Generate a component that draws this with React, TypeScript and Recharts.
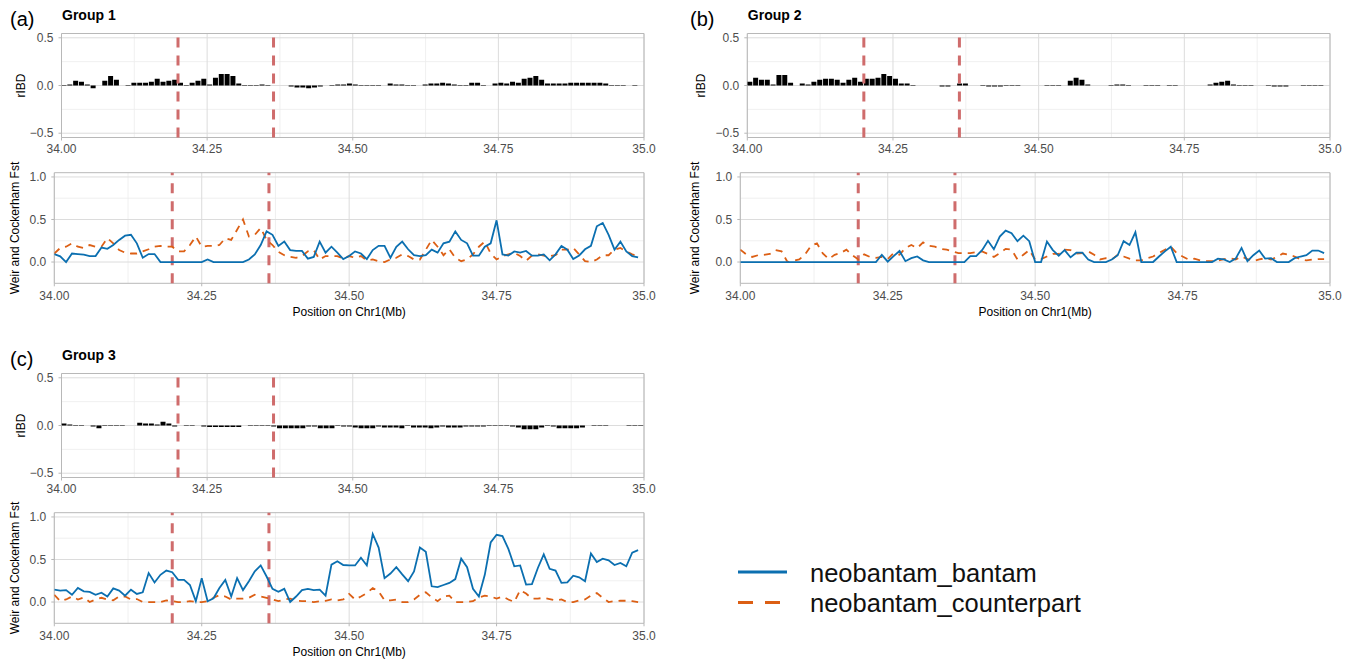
import React from 'react';
import {
  ComposedChart,
  Bar,
  Line,
  XAxis,
  YAxis,
  CartesianGrid,
  ReferenceLine,
  ReferenceArea,
} from 'recharts';

// ---------- axes / categories ----------
const X_TICKS = [34, 34.25, 34.5, 34.75, 35];
const X_TICK_LABELS = ['34.00', '34.25', '34.50', '34.75', '35.0'];
const X_MINOR = [34.125, 34.375, 34.625, 34.875];
const RIBD_DOMAIN = [-0.545, 0.545];
const RIBD_TICKS = [-0.5, 0, 0.5];
const RIBD_TICK_LABELS = ['\u22120.5', '0.0', '0.5'];
const RIBD_MINOR = [-0.25, 0.25];
const FST_DOMAIN = [-0.25, 1.05];
const FST_TICKS = [0, 0.5, 1];
const FST_TICK_LABELS = ['0.0', '0.5', '1.0'];
const FST_MINOR = [0.25, 0.75];
const CANDIDATE_REGION = [34.2, 34.364];
const SERIES_NAMES = ['neobantam_bantam', 'neobantam_counterpart'];

// rIBD bins (0.01 Mb windows, centred) and Fst windows (0.01 Mb steps)
const RIBD_BIN_POS = Array.from({ length: 100 }, (_, i) => Number((34.005 + i * 0.01).toFixed(3)));
const FST_POS = Array.from({ length: 100 }, (_, i) => Number((34 + i * 0.01).toFixed(2)));

// ---------- rIBD values ----------
const RIBD_G1 = [
  0.005, 0.01, 0.05, 0.04, 0.01, -0.03, 0, 0.05, 0.1, 0.06,
  0, 0.005, 0.03, 0.03, 0.03, 0.04, 0.07, 0.04, 0.05, 0.06,
  0.03, 0.005, 0.03, 0.05, 0.07, 0.01, 0.08, 0.12, 0.12, 0.1,
  0.02, 0.005, 0.005, 0.005, 0.01, 0.005, 0, 0, 0, -0.01,
  -0.02, -0.02, -0.03, -0.02, -0.01, 0, 0.005, 0.01, 0.01, 0.02,
  0.01, 0.005, 0.005, 0.005, 0.005, 0, 0.02, 0.01, 0.01, 0.005,
  0.005, 0, 0.01, 0.02, 0.02, 0.03, 0.02, 0.01, 0.005, 0.005,
  0.03, 0.03, 0.005, 0, 0.02, 0.03, 0.02, 0.04, 0.03, 0.07,
  0.08, 0.1, 0.06, 0.02, 0.02, 0.02, 0.02, 0.03, 0.03, 0.03,
  0.03, 0.03, 0.03, 0.02, 0.005, 0.005, 0.005, 0, -0.005, 0,
];
const RIBD_G2 = [
  0.04, 0.08, 0.06, 0.06, 0.01, 0.11, 0.11, 0.03, 0, 0.02,
  0.01, 0.04, 0.06, 0.07, 0.07, 0.06, 0.03, 0.06, 0.08, 0.04,
  0.07, 0.07, 0.08, 0.12, 0.1, 0.07, 0.02, 0.02, 0.005, 0,
  0, 0, 0, -0.01, -0.01, 0, 0.02, 0.02, 0, 0,
  -0.005, -0.01, -0.01, -0.01, -0.005, -0.005, -0.005, 0, 0, 0,
  0, 0.005, 0.005, 0.005, 0, 0.05, 0.08, 0.06, 0.01, 0,
  0, 0, 0.005, 0.01, 0.01, 0.005, 0, 0, 0.005, 0.005,
  0.005, 0, -0.005, -0.005, 0, 0, 0, 0, 0, 0.01,
  0.03, 0.04, 0.05, 0.01, 0.005, -0.005, -0.005, 0, 0, -0.005,
  -0.01, -0.01, -0.01, 0, 0, -0.005, -0.005, -0.005, -0.005, 0,
];
const RIBD_G3 = [
  0.02, 0.01, 0.005, 0.005, 0, -0.01, -0.03, 0.005, 0.005, 0.005,
  0.005, 0, 0, 0.03, 0.02, 0.02, 0.01, 0.04, 0.02, -0.01,
  0, 0.005, 0.005, 0, -0.01, -0.015, -0.015, -0.015, -0.015, -0.015,
  -0.015, 0, -0.005, -0.005, -0.005, -0.005, -0.01, -0.03, -0.03, -0.03,
  -0.03, -0.03, -0.01, -0.01, -0.03, -0.03, -0.03, -0.005, -0.01, -0.01,
  -0.02, -0.03, -0.03, -0.03, -0.01, -0.02, -0.02, -0.02, -0.03, -0.005,
  -0.02, -0.02, -0.02, -0.03, -0.02, -0.01, -0.02, -0.02, -0.02, -0.01,
  -0.01, -0.01, -0.01, -0.005, -0.005, -0.005, -0.005, -0.01, -0.02, -0.04,
  -0.04, -0.04, -0.02, -0.005, -0.01, -0.03, -0.03, -0.03, -0.03, -0.02,
  0, -0.005, -0.005, -0.005, 0, 0, 0, -0.005, -0.005, -0.005,
];

// ---------- Fst values ----------
const FST_G1_BANTAM = [
  0.094, 0.067, 0, 0.1, 0.094, 0.087, 0.07, 0.07, 0.17, 0.155,
  0.2, 0.26, 0.31, 0.32, 0.22, 0.05, 0.094, 0.094, 0, 0,
  0, 0, 0, 0, 0, 0, 0.03, 0, 0, 0,
  0, 0, 0, 0.03, 0.09, 0.2, 0.36, 0.32, 0.19, 0.24,
  0.14, 0.13, 0.13, 0.04, 0.06, 0.24, 0.11, 0.18, 0.11, 0.035,
  0.07, 0.125, 0.1, 0.035, 0.14, 0.19, 0.19, 0.05, 0.18, 0.24,
  0.15, 0.08, 0.07, 0.08, 0.145, 0.11, 0.22, 0.24, 0.36, 0.26,
  0.22, 0.075, 0.075, 0.18, 0.22, 0.49, 0.09, 0.075, 0.125, 0.11,
  0.13, 0.075, 0.075, 0.09, 0.02, 0.09, 0.19, 0.145, 0.035, 0.075,
  0.15, 0.19, 0.42, 0.46, 0.32, 0.145, 0.24, 0.125, 0.07, 0.055,
];
const FST_G1_COUNTERPART = [
  0.1, 0.165, 0.18, 0.22, 0.18, 0.165, 0.2, 0.18, 0.18, 0.28,
  0.22, 0.14, 0.11, 0.1, 0.1, 0.125, 0.15, 0.18, 0.19, 0.18,
  0.18, 0.125, 0.125, 0.2, 0.3, 0.18, 0.19, 0.19, 0.2, 0.28,
  0.26, 0.38, 0.5, 0.3, 0.32, 0.4, 0.26, 0.2, 0.12, 0.08,
  0.06, 0.05, 0.07, 0.125, 0.14, 0.03, 0.07, 0.07, 0.07, 0.04,
  0.07, 0.05, 0.07, 0.02, 0.03, 0.01, 0, 0.03, 0.05, 0.09,
  0.07, 0.03, 0.03, 0.145, 0.26, 0.18, 0.08, 0.15, 0.05, 0.01,
  0.03, 0.09, 0.18, 0.24, 0.1, 0.03, 0.07, 0.09, 0.11, 0.07,
  0.015, 0.075, 0.09, 0.075, 0.07, 0.08, 0.145, 0.145, 0.165, 0.09,
  0.01, 0, 0.03, 0.08, 0.08, 0.145, 0.165, 0.125, 0.09, 0.07,
];
const FST_G2_BANTAM = [
  0, 0, 0, 0, 0, 0, 0, 0, 0, 0,
  0, 0, 0, 0, 0, 0, 0, 0, 0, 0,
  0, 0, 0, 0, 0.085, 0.005, 0.07, 0.13, 0.01, 0.045,
  0.065, 0.02, 0, 0, 0, 0, 0, 0, 0, 0.07,
  0.07, 0.14, 0.25, 0.15, 0.3, 0.37, 0.34, 0.245, 0.31, 0.245,
  0, 0, 0.24, 0.14, 0.075, 0.14, 0.055, 0.11, 0.11, 0.03,
  0, 0, 0, 0.03, 0.08, 0.245, 0.2, 0.35, 0, 0,
  0, 0.065, 0.125, 0.18, 0, 0, 0, 0, 0, 0,
  0, 0.04, 0.03, 0, 0.04, 0.165, 0.01, 0.08, 0.135, 0.04,
  0.045, 0, 0, 0, 0.045, 0.065, 0.08, 0.135, 0.135, 0.105,
];
const FST_G2_COUNTERPART = [
  0.145, 0.09, 0.06, 0.08, 0.085, 0.095, 0.14, 0.125, 0, 0.015,
  0.03, 0.09, 0.19, 0.22, 0.1, 0.035, 0.085, 0.105, 0.145, 0.08,
  0.03, 0.09, 0.06, 0.05, 0.06, 0.035, 0.105, 0.085, 0.165, 0.2,
  0.165, 0.23, 0.19, 0.18, 0.155, 0.145, 0.125, 0.105, 0.105, 0.105,
  0.115, 0.125, 0.095, 0.06, 0.105, 0.155, 0.145, 0.03, 0.085, 0.14,
  0.03, 0.035, 0.065, 0.095, 0.095, 0.145, 0.14, 0.1, 0.105, 0.125,
  0.085, 0.03, 0.045, 0.03, 0.085, 0.065, 0.04, 0.02, 0.02, 0.045,
  0.065, 0.105, 0.145, 0.18, 0.105, 0.065, 0.03, 0.04, 0.02, 0.01,
  0.01, 0.015, 0.035, 0.045, 0.03, 0.065, 0.035, 0.01, 0.03, 0.045,
  0.03, 0.06, 0.1, 0.085, 0.065, 0.03, 0.02, 0.03, 0.035, 0.035,
];
const FST_G3_BANTAM = [
  0.145, 0.135, 0.14, 0.085, 0.165, 0.125, 0.12, 0.085, 0.11, 0.065,
  0.16, 0.135, 0.075, 0.145, 0.095, 0.115, 0.34, 0.23, 0.32, 0.37,
  0.35, 0.26, 0.26, 0.2, 0.01, 0.28, 0.01, 0.045, 0.165, 0.26,
  0.065, 0.28, 0.14, 0.245, 0.36, 0.43, 0.3, 0.155, 0.12, 0.155,
  0, 0.065, 0.14, 0.155, 0.14, 0.145, 0.075, 0.44, 0.48, 0.435,
  0.43, 0.43, 0.52, 0.43, 0.8, 0.64, 0.28, 0.335, 0.41, 0.325,
  0.245, 0.36, 0.64, 0.59, 0.185, 0.175, 0.2, 0.225, 0.27, 0.51,
  0.41, 0.155, 0.065, 0.32, 0.7, 0.79, 0.775, 0.625, 0.42, 0.43,
  0.205, 0.21, 0.4, 0.56, 0.39, 0.37, 0.225, 0.23, 0.31, 0.29,
  0.245, 0.57, 0.47, 0.51, 0.49, 0.435, 0.46, 0.42, 0.58, 0.61,
];
const FST_G3_COUNTERPART = [
  0.085, 0.01, 0.03, 0.065, 0.03, 0.055, 0, 0.03, 0.05, 0.03,
  0.02, 0.065, 0.065, 0.03, 0.035, 0, 0, 0, 0, 0.02,
  0.01, 0, 0, 0.01, 0, 0, 0.01, 0.05, 0.08, 0.065,
  0.03, 0.04, 0.04, 0.05, 0.085, 0.065, 0.05, 0.03, 0.01, 0.03,
  0.04, 0.015, 0.01, 0.01, 0, 0.01, 0.015, 0.03, 0.02, 0.03,
  0.095, 0.03, 0.065, 0.105, 0.165, 0.125, 0.02, 0.02, 0.03, 0,
  0, 0.03, 0.085, 0.115, 0.055, 0.01, 0.065, 0.075, 0, 0,
  0, 0.01, 0.055, 0.075, 0.065, 0.04, 0.065, 0.03, 0, 0.14,
  0.1, 0.04, 0.04, 0.05, 0.035, 0.02, 0.03, 0, 0, 0.02,
  0.03, 0.075, 0.105, 0.05, 0, 0.01, 0.015, 0.015, 0.01, 0,
];

// ---------- styles ----------
const FONT = "'Liberation Sans', Arial, Helvetica, sans-serif";
const BLUE = '#0b6fb0';
const ORANGE = '#dc5f14';
const RED = '#cf6c6c';
const BORDER = '#b8b8b8';
const GRID_MAJOR = '#dcdcdc';
const GRID_MINOR = '#ececec';
const TICK_STYLE = { fontSize: 12, fill: '#4d4d4d', fontFamily: FONT };

const fmtX = (v: number) => X_TICK_LABELS[X_TICKS.indexOf(v)] ?? String(v);
const fmtRibd = (v: number) => RIBD_TICK_LABELS[RIBD_TICKS.indexOf(v)] ?? String(v);
const fmtFst = (v: number) => FST_TICK_LABELS[FST_TICKS.indexOf(v)] ?? String(v);

type RibdProps = { x: number; y: number; w: number; yAxisW: number; rightM: number; values: number[] };

function RibdChart({ x, y, w, yAxisW, rightM, values }: RibdProps) {
  const data = RIBD_BIN_POS.map((pos, i) => ({ pos, rIBD: values[i] }));
  return (
    <div style={{ position: 'absolute', left: x, top: y }}>
      <ComposedChart width={w} height={160} data={data} margin={{ top: 33.5, right: rightM, bottom: 0, left: 0 }}>
        <CartesianGrid verticalValues={X_MINOR} horizontalValues={RIBD_MINOR} stroke={GRID_MINOR} strokeWidth={0.8} />
        <CartesianGrid verticalValues={X_TICKS} horizontalValues={RIBD_TICKS} stroke={GRID_MAJOR} strokeWidth={1} />
        <XAxis
          dataKey="pos" type="number" domain={[34, 35]} ticks={X_TICKS} tickFormatter={fmtX}
          interval={0} axisLine={false} tickLine={{ stroke: BORDER }} tickSize={3} tickMargin={4}
          height={22.5} tick={TICK_STYLE} allowDataOverflow
        />
        <YAxis
          type="number" domain={RIBD_DOMAIN} ticks={RIBD_TICKS} tickFormatter={fmtRibd} interval={0}
          axisLine={false} tickLine={{ stroke: BORDER }} tickSize={3} tickMargin={5} width={yAxisW}
          tick={TICK_STYLE} allowDataOverflow
        />
        <Bar dataKey="rIBD" fill="#000" barSize={5} isAnimationActive={false} />
        <ReferenceArea x1={34} x2={35} y1={RIBD_DOMAIN[0]} y2={RIBD_DOMAIN[1]} fill="none" stroke={BORDER} strokeWidth={1} ifOverflow="visible" />
        {CANDIDATE_REGION.map((v) => (
          <ReferenceLine key={v} x={v} stroke={RED} strokeWidth={3} strokeDasharray="10 8" />
        ))}
      </ComposedChart>
    </div>
  );
}

type FstProps = { x: number; y: number; w: number; yAxisW: number; rightM: number; bantam: number[]; counterpart: number[] };

function FstChart({ x, y, w, yAxisW, rightM, bantam, counterpart }: FstProps) {
  const data = FST_POS.map((pos, i) => ({ pos, bantam: bantam[i], counterpart: counterpart[i] }));
  return (
    <div style={{ position: 'absolute', left: x, top: y }}>
      <ComposedChart width={w} height={160} data={data} margin={{ top: 12.7, right: rightM, bottom: 0, left: 0 }}>
        <CartesianGrid verticalValues={X_MINOR} horizontalValues={FST_MINOR} stroke={GRID_MINOR} strokeWidth={0.8} />
        <CartesianGrid verticalValues={X_TICKS} horizontalValues={FST_TICKS} stroke={GRID_MAJOR} strokeWidth={1} />
        <XAxis
          dataKey="pos" type="number" domain={[34, 35]} ticks={X_TICKS} tickFormatter={fmtX}
          interval={0} axisLine={false} tickLine={{ stroke: BORDER }} tickSize={3} tickMargin={5}
          height={36.7} tick={TICK_STYLE} allowDataOverflow
        />
        <YAxis
          type="number" domain={FST_DOMAIN} ticks={FST_TICKS} tickFormatter={fmtFst} interval={0}
          axisLine={false} tickLine={{ stroke: BORDER }} tickSize={3} tickMargin={5} width={yAxisW}
          tick={TICK_STYLE} allowDataOverflow
        />
        <ReferenceArea x1={34} x2={35} y1={FST_DOMAIN[0]} y2={FST_DOMAIN[1]} fill="none" stroke={BORDER} strokeWidth={1} ifOverflow="visible" />
        {CANDIDATE_REGION.map((v) => (
          <ReferenceLine key={v} x={v} stroke={RED} strokeWidth={3} strokeDasharray="10 8" />
        ))}
        <Line dataKey="counterpart" type="linear" stroke={ORANGE} strokeWidth={1.8} strokeDasharray="7 6" dot={false} activeDot={false} isAnimationActive={false} />
        <Line dataKey="bantam" type="linear" stroke={BLUE} strokeWidth={1.8} dot={false} activeDot={false} isAnimationActive={false} />
      </ComposedChart>
    </div>
  );
}

const GROUPS = [
  { tag: '(a)', title: 'Group 1', x: 0, y: 0, w: 660, rightM: 16, ribdYW: 61.5, fstYW: 54.3, ribd: RIBD_G1, bantam: FST_G1_BANTAM, counterpart: FST_G1_COUNTERPART },
  { tag: '(b)', title: 'Group 2', x: 680, y: 0, w: 674, rightM: 24, ribdYW: 67.3, fstYW: 60.3, ribd: RIBD_G2, bantam: FST_G2_BANTAM, counterpart: FST_G2_COUNTERPART },
  { tag: '(c)', title: 'Group 3', x: 0, y: 340, w: 660, rightM: 16, ribdYW: 61.5, fstYW: 54.3, ribd: RIBD_G3, bantam: FST_G3_BANTAM, counterpart: FST_G3_COUNTERPART },
];

export default function App() {
  return (
    <div style={{ position: 'absolute', left: 0, top: 0, width: 1354, height: 661, background: '#fff', overflow: 'hidden', fontFamily: FONT }}>
      {GROUPS.map((g) => (
        <React.Fragment key={g.title}>
          <RibdChart x={g.x} y={g.y} w={g.w} yAxisW={g.ribdYW} rightM={g.rightM} values={g.ribd} />
          <FstChart x={g.x} y={g.y + 160} w={g.w} yAxisW={g.fstYW} rightM={g.rightM} bantam={g.bantam} counterpart={g.counterpart} />
        </React.Fragment>
      ))}
      <svg width={1354} height={661} style={{ position: 'absolute', left: 0, top: 0, pointerEvents: 'none' }}>
        {GROUPS.map((g) => {
          const ribdLeft = g.x + g.ribdYW;
          const fstLeft = g.x + g.fstYW;
          const plotRight = g.x + g.w - g.rightM;
          return (
            <g key={g.tag} fontFamily={FONT}>
              <text x={g.x + 10} y={g.y + 19} fontSize={20} dominantBaseline="central" fill="#000">{g.tag}</text>
              <text x={ribdLeft + 0.5} y={g.y + 15} fontSize={14} fontWeight="bold" dominantBaseline="central" fill="#000">{g.title}</text>
              <text transform={`translate(${g.x + 20.5},${g.y + 85.5}) rotate(-90)`} fontSize={12} textAnchor="middle" dominantBaseline="central" fill="#000">rIBD</text>
              <text transform={`translate(${g.x + 14.5},${g.y + 228}) rotate(-90)`} fontSize={12} textAnchor="middle" dominantBaseline="central" fill="#000">Weir and Cockerham Fst</text>
              <text x={(fstLeft + plotRight) / 2} y={g.y + 311.7} fontSize={12} textAnchor="middle" dominantBaseline="central" fill="#000">Position on Chr1(Mb)</text>
            </g>
          );
        })}
        <g fontFamily={FONT}>
          <line x1={738} y1={572} x2={787} y2={572} stroke={BLUE} strokeWidth={3} />
          <line x1={738} y1={602.5} x2={787} y2={602.5} stroke={ORANGE} strokeWidth={3} strokeDasharray="15 12" />
          <text x={810} y={573} fontSize={25.5} dominantBaseline="central" fill="#111">{SERIES_NAMES[0]}</text>
          <text x={810} y={603} fontSize={25.5} dominantBaseline="central" fill="#111">{SERIES_NAMES[1]}</text>
        </g>
      </svg>
    </div>
  );
}
